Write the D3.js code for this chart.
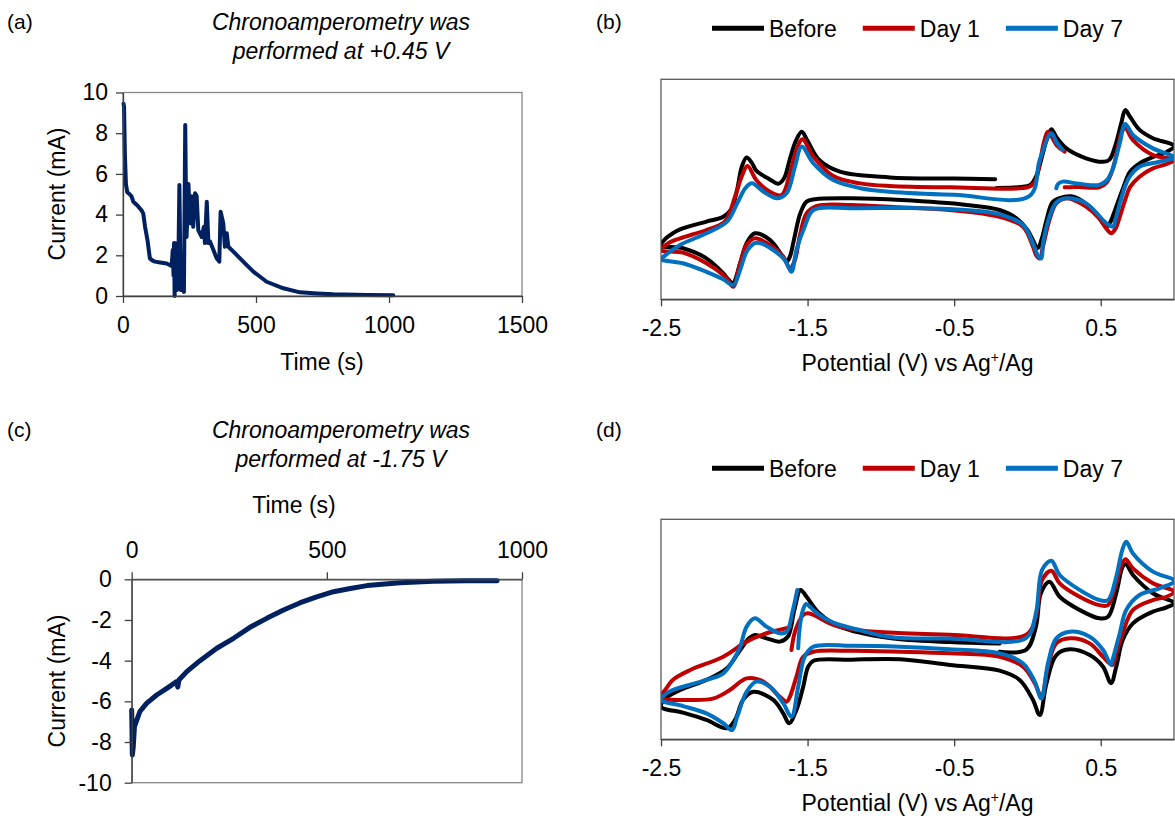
<!DOCTYPE html>
<html>
<head>
<meta charset="utf-8">
<script src="https://cdn.jsdelivr.net/npm/d3@7"></script>
<style>
  body { margin: 0; background: #fff; }
  svg { font-family: "Liberation Sans", Arial, sans-serif; }
</style>
</head>
<body>
<svg id="fig" width="1175" height="824"></svg>
<script>
// ---- data ----
// (a) chronoamperometry at +0.45 V : [time s, current mA]
const caOxidation = [
  [2, 9.45], [4, 9.3], [7, 7.0], [11, 5.5], [16, 5.1], [25, 5.0], [32, 4.9], [39, 4.63],
  [50, 4.5], [58, 4.39], [70, 4.2], [76, 4.06], [83, 3.4], [92, 2.75], [101, 1.85],
  [110, 1.75], [120, 1.69], [140, 1.65], [164, 1.6], [183, 1.47], [187, 2.26], [190, 1.0],
  [192, 2.6], [194, 0.0], [199, 2.59], [203, 0.3], [208, 1.5], [212, 5.45], [215, 2.0],
  [217, 0.3], [224, 0.62], [229, 0.2], [234, 8.4], [237, 4.5], [239, 2.9], [246, 5.5],
  [252, 3.57], [258, 4.9], [264, 3.4], [271, 5.05], [277, 4.9], [283, 3.24], [296, 2.9],
  [304, 3.4], [308, 2.6], [315, 4.63], [321, 2.6], [327, 2.68], [340, 2.26], [352, 1.85],
  [362, 1.69], [367, 4.14], [377, 3.57], [383, 2.42], [390, 3.08], [396, 2.42], [415, 2.18],
  [452, 1.69], [490, 1.2], [540, 0.7], [603, 0.38], [665, 0.18], [730, 0.12], [791, 0.08],
  [916, 0.05], [1016, 0.04]
];
// (c) chronoamperometry at -1.75 V : [time s, current mA]
const caReduction = [
  [0, -6.43], [1.6, -8.64], [4, -8.23], [7, -7.25], [13, -6.92], [21, -6.5], [38, -6.1],
  [64, -5.69], [90, -5.36], [115, -5.03], [118, -5.3], [121, -4.95], [141, -4.54],
  [175, -4.0], [218, -3.39], [261, -2.9], [303, -2.36], [346, -1.92], [389, -1.51],
  [432, -1.15], [474, -0.86], [517, -0.61], [560, -0.45], [603, -0.31], [688, -0.17],
  [773, -0.1], [859, -0.07], [936, -0.07]
];

const caTimeTicksA = [0, 500, 1000, 1500];
const caCurrentTicksA = [0, 2, 4, 6, 8, 10];
const caTimeTicksC = [0, 500, 1000];
const caCurrentTicksC = [0, -2, -4, -6, -8, -10];
const cvPotentialTicks = [-2.5, -1.5, -0.5, 0.5];

const seriesNames = ["Before", "Day 1", "Day 7"];
const seriesColors = ["#000000", "#c00000", "#0070c0"];

// CV curves, [potential V, current a.u.] in scan order
const cvB_before = [
  [-0.21, 50.6], [-0.05, 51], [0.02, 52], [0.06, 56], [0.1, 65], [0.13, 72.4], [0.163, 77.3],
  [0.2, 73.5], [0.266, 68.6], [0.4, 64.1], [0.516, 62.5], [0.56, 63.5], [0.6, 70], [0.64, 80],
  [0.667, 86], [0.7, 83], [0.765, 77], [0.856, 73.2], [1.0, 69.7],
  [0.95, 67], [0.85, 64.5], [0.765, 61.8], [0.7, 58], [0.65, 50], [0.6, 41], [0.565, 35],
  [0.54, 33], [0.5, 36], [0.47, 39.1], [0.4, 43.5], [0.3, 46.8], [0.22, 46], [0.17, 44],
  [0.13, 36], [0.1, 28], [0.07, 23.2], [0.03, 28], [0.0, 31.5], [-0.075, 36.8], [-0.19, 40.6],
  [-0.416, 42.9], [-0.86, 45.1], [-1.2, 45.9], [-1.45, 45.5], [-1.507, 44.4], [-1.55, 39],
  [-1.59, 28], [-1.62, 19.5], [-1.643, 17.1], [-1.67, 19.5], [-1.757, 27], [-1.86, 30],
  [-1.916, 25.5], [-1.96, 16.4], [-2.01, 7.3], [-2.04, 9], [-2.075, 11.8], [-2.19, 18.6],
  [-2.35, 23.2], [-2.5, 24.5],
  [-2.47, 27.5], [-2.42, 30], [-2.37, 31.8], [-2.19, 35.3], [-2.075, 37.5], [-2.02, 41],
  [-1.98, 50], [-1.95, 60], [-1.916, 64.5], [-1.88, 62], [-1.85, 58.5], [-1.757, 54.5],
  [-1.7, 52.5], [-1.66, 55], [-1.62, 64], [-1.58, 72], [-1.54, 76.2], [-1.5, 72],
  [-1.42, 63.3], [-1.28, 58], [-0.94, 55.4], [-0.5, 54.9], [-0.22, 54.6]
];
const cvB_day1 = [
  [0.254, 50.9], [0.35, 51], [0.49, 50.9], [0.54, 53], [0.58, 58.8], [0.62, 70], [0.64, 75.5],
  [0.667, 77.7], [0.72, 72.4], [0.856, 65.6], [1.0, 63.3],
  [0.95, 61.5], [0.856, 59.5], [0.765, 55.7], [0.7, 51], [0.674, 46.6], [0.63, 37.5],
  [0.6, 32], [0.572, 30], [0.54, 32], [0.49, 36.8], [0.4, 42.1], [0.3, 45.5], [0.266, 45.9],
  [0.197, 43.6], [0.15, 36], [0.106, 23.9], [0.084, 18.6], [0.06, 20], [0.038, 23.9],
  [-0.03, 33], [-0.19, 37.5], [-0.53, 40.6], [-0.87, 41.8], [-1.2, 42.9], [-1.44, 42.4],
  [-1.507, 39.1], [-1.554, 28.5], [-1.586, 17.9], [-1.62, 14.1], [-1.666, 19.4],
  [-1.757, 24.7], [-1.86, 27.7], [-1.916, 24.7], [-1.96, 16.4], [-2.007, 5.7], [-2.04, 8.5],
  [-2.075, 11], [-2.19, 16.4], [-2.35, 21.2], [-2.5, 22.4],
  [-2.45, 25.5], [-2.37, 27.7], [-2.19, 31.5], [-2.065, 35.3], [-1.995, 46.6], [-1.95, 55.7],
  [-1.91, 60.6], [-1.85, 54.2], [-1.757, 48.9], [-1.677, 47.4], [-1.62, 57.3], [-1.576, 67.9],
  [-1.535, 72.7], [-1.46, 64.8], [-1.325, 56], [-1.14, 52.7], [-0.94, 51.5], [-0.53, 50.9],
  [0.0, 50.9], [0.05, 53], [0.084, 62], [0.115, 72], [0.14, 76.2], [0.2, 70], [0.254, 67.1]
];
const cvB_day7 = [
  [0.197, 50.5], [0.21, 52.5], [0.24, 53.5], [0.35, 52.5], [0.49, 52], [0.54, 54], [0.58, 58.8],
  [0.63, 70.9], [0.667, 79.7], [0.72, 74.7], [0.856, 68.6], [1.0, 64.5],
  [0.9, 62.5], [0.765, 60.3], [0.7, 56], [0.674, 52.7], [0.63, 43.6], [0.6, 36], [0.584, 33],
  [0.55, 34], [0.516, 36], [0.4, 43.6], [0.266, 45.9], [0.197, 44], [0.15, 37.5],
  [0.106, 25.4], [0.095, 18.6], [0.07, 20], [0.038, 25.4], [-0.03, 33.8], [-0.19, 38.6],
  [-0.53, 41], [-0.87, 41.5], [-1.2, 41.4], [-1.46, 40.6], [-1.52, 33], [-1.576, 22.4],
  [-1.61, 12.5], [-1.655, 17.9], [-1.734, 22.4], [-1.82, 25.5], [-1.86, 25.5], [-1.916, 21.6],
  [-1.96, 13.3], [-2.007, 6.5], [-2.075, 9.1], [-2.19, 12.5], [-2.35, 16.4], [-2.5, 18.2],
  [-2.48, 19.5], [-2.37, 24.7], [-2.19, 30], [-2.05, 35.3], [-1.98, 43.6], [-1.925, 50.5],
  [-1.88, 52.7], [-1.8, 48.9], [-1.71, 45.9], [-1.643, 48.2], [-1.586, 60.3], [-1.54, 69.4],
  [-1.46, 61.8], [-1.325, 54.2], [-1.14, 50.5], [-0.94, 48.9], [-0.5, 47.5], [0.015, 47],
  [0.084, 63.3], [0.163, 75.5], [0.197, 71.6], [0.24, 67.9]
];
const cvD_before = [
  [-0.19, 39.8], [-0.01, 40.6], [0.058, 51.2], [0.092, 66.4], [0.15, 71.6], [0.22, 64.8],
  [0.356, 58.8], [0.49, 55], [0.55, 55.7], [0.606, 66.4], [0.65, 78.5], [0.67, 79.7],
  [0.72, 74.7], [0.856, 66.4], [1.0, 61.8],
  [0.95, 60], [0.856, 58], [0.72, 52.7], [0.65, 45.1], [0.606, 33], [0.57, 25.5], [0.516, 33],
  [0.425, 38.3], [0.29, 40.9], [0.197, 38.3], [0.13, 25.5], [0.084, 11], [0.038, 17.9],
  [-0.053, 27], [-0.19, 31.2], [-0.53, 33.8], [-0.87, 36.4], [-1.2, 36.2], [-1.46, 35.7],
  [-1.496, 33], [-1.53, 23.9], [-1.576, 13.3], [-1.626, 7.3], [-1.666, 11.8], [-1.734, 17.9],
  [-1.87, 21.6], [-1.94, 17.9], [-1.995, 8.8], [-2.05, 5], [-2.19, 8.8], [-2.35, 12.1],
  [-2.5, 14.8],
  [-2.47, 18.5], [-2.37, 22.4], [-2.19, 27], [-2.05, 32.3], [-1.96, 40.6], [-1.9, 45.9],
  [-1.86, 47.4], [-1.78, 45.9], [-1.69, 44.4], [-1.635, 46.6], [-1.59, 58.8], [-1.548, 67.9],
  [-1.507, 64.8], [-1.42, 57.3], [-1.28, 51.2], [-0.94, 46], [-0.53, 44.2], [-0.19, 43.5]
];
const cvD_day1 = [
  [-1.61, 40.6], [-1.59, 48], [-1.564, 52.7], [-1.53, 56.5], [-1.5, 57.3], [-1.46, 56.5],
  [-1.325, 52], [-1.166, 49.7], [-0.94, 48.5], [-0.53, 47.5], [-0.01, 47.4], [0.058, 55.7],
  [0.1, 72.4], [0.163, 76.6], [0.22, 70.9], [0.356, 64.8], [0.49, 61], [0.55, 61],
  [0.606, 70.9], [0.647, 80], [0.67, 81.8], [0.72, 77.7], [0.856, 70.9], [1.0, 67.1],
  [0.95, 64.8], [0.856, 63.3], [0.72, 58.8], [0.65, 48.2], [0.606, 39.1], [0.58, 33.8],
  [0.516, 37.5], [0.425, 43.6], [0.29, 45.9], [0.197, 43.6], [0.14, 33], [0.095, 19.4],
  [0.05, 25.5], [-0.03, 33], [-0.19, 37.5], [-0.53, 39.1], [-0.87, 39.8], [-1.2, 40.2],
  [-1.46, 39.8], [-1.53, 37.5], [-1.576, 28.5], [-1.62, 19.4], [-1.643, 17.1], [-1.69, 19.4],
  [-1.8, 26.2], [-1.916, 27.7], [-2.03, 22.4], [-2.14, 18.6], [-2.3, 17.9], [-2.5, 19],
  [-2.46, 23.5], [-2.42, 27], [-2.3, 31.5], [-2.075, 37.5], [-1.916, 44.4], [-1.78, 48.2],
  [-1.643, 50.5], [-1.62, 51]
];
const cvD_day7 = [
  [-1.564, 41.4], [-1.555, 50], [-1.535, 58], [-1.51, 61.5], [-1.48, 60], [-1.44, 57.5],
  [-1.325, 53], [-1.166, 50], [-0.94, 46.5], [-0.53, 45.8], [-0.01, 46], [0.058, 57.3],
  [0.1, 77], [0.163, 81.2], [0.22, 74.7], [0.356, 67.9], [0.49, 63.3], [0.55, 63.3],
  [0.606, 73.9], [0.647, 86], [0.674, 89.8], [0.72, 84.5], [0.856, 76.2], [1.0, 72],
  [0.9, 68.6], [0.765, 65.6], [0.674, 58.8], [0.63, 48.2], [0.584, 36.8], [0.57, 33.8],
  [0.516, 40.6], [0.425, 46.6], [0.29, 48.9], [0.197, 45.9], [0.14, 34.5], [0.095, 18.6],
  [0.05, 26.2], [-0.03, 34.5], [-0.19, 39.1], [-0.53, 40.9], [-0.87, 42.1], [-1.2, 42.5],
  [-1.46, 42.1], [-1.52, 37.5], [-1.564, 23.9], [-1.61, 10.3], [-1.666, 16.4], [-1.757, 23.9],
  [-1.85, 26.2], [-1.916, 21.6], [-1.98, 10.3], [-2.015, 4.2], [-2.075, 7.3], [-2.19, 11.8],
  [-2.35, 15.1], [-2.5, 17.9],
  [-2.46, 21], [-2.42, 22.4], [-2.19, 27], [-2.075, 30], [-2.007, 36], [-1.96, 42.1],
  [-1.916, 51.2], [-1.86, 55], [-1.78, 51.2], [-1.69, 48.2], [-1.643, 48.9], [-1.6, 58.8],
  [-1.57, 67.9]
];

// ---- drawing ----
const svg = d3.select("#fig");
const FS = 23;
const AXIS_COLOR = "#404040";
const BORDER_COLOR = "#868686";

function styleAxis(g) {
  g.attr("font-family", null).attr("font-size", FS);
  g.select(".domain").attr("stroke", AXIS_COLOR).attr("stroke-width", 1.3);
  g.selectAll(".tick line").attr("stroke", AXIS_COLOR).attr("stroke-width", 1.3);
  g.selectAll(".tick text").attr("fill", "#000");
}

function panelLabel(x, y, txt) {
  svg.append("text").attr("x", x).attr("y", y).attr("font-size", 21).text(txt);
}

function italicTitle(cx, y, lines) {
  const t = svg.append("text").attr("text-anchor", "middle")
    .attr("font-size", FS).attr("font-style", "italic");
  lines.forEach((l, i) => t.append("tspan").attr("x", cx).attr("y", y + i * 28.5).text(l));
}

function yTitle(cx, cy, txt) {
  svg.append("text")
    .attr("transform", `translate(${cx},${cy}) rotate(-90)`)
    .attr("text-anchor", "middle").attr("font-size", FS).text(txt);
}

const caLine = (x, y) => d3.line().x(d => x(d[0])).y(d => y(d[1]));
const plain = d => String(d);

// (a)
{
  const x = d3.scaleLinear().domain([0, 1500]).range([123, 522]);
  const y = d3.scaleLinear().domain([0, 10]).range([296, 92.5]);
  svg.append("rect").attr("x", 123).attr("y", 92.5).attr("width", 399).attr("height", 203.5)
    .attr("fill", "none").attr("stroke", BORDER_COLOR).attr("stroke-width", 1.3);
  svg.append("path").datum(caOxidation).attr("d", caLine(x, y))
    .attr("fill", "none").attr("stroke", "#002060").attr("stroke-width", 4)
    .attr("stroke-linejoin", "round").attr("stroke-linecap", "round");
  svg.append("g").attr("transform", "translate(0,296)")
    .call(d3.axisBottom(x).tickValues(caTimeTicksA).tickSize(7).tickSizeOuter(0).tickPadding(14)
      .tickFormat(plain))
    .call(styleAxis);
  svg.append("g").attr("transform", "translate(123,0)")
    .call(d3.axisLeft(y).tickValues(caCurrentTicksA).tickSize(7).tickSizeOuter(0).tickPadding(8)
      .tickFormat(plain))
    .call(styleAxis);
  panelLabel(7, 29, "(a)");
  italicTitle(341, 30, ["Chronoamperometry was", "performed at +0.45 V"]);
  svg.append("text").attr("x", 322).attr("y", 370).attr("text-anchor", "middle")
    .attr("font-size", FS).text("Time (s)");
  yTitle(65, 194, "Current (mA)");
}

// (c)
{
  const x = d3.scaleLinear().domain([0, 1000]).range([131.7, 522]);
  const y = d3.scaleLinear().domain([-10, 0]).range([782.7, 579.3]);
  svg.append("rect").attr("x", 131.7).attr("y", 579.3).attr("width", 390.3).attr("height", 203.4)
    .attr("fill", "none").attr("stroke", BORDER_COLOR).attr("stroke-width", 1.3);
  svg.append("path").datum(caReduction).attr("d", caLine(x, y))
    .attr("fill", "none").attr("stroke", "#002060").attr("stroke-width", 5)
    .attr("stroke-linejoin", "round").attr("stroke-linecap", "round");
  svg.append("g").attr("transform", "translate(0,579.3)")
    .call(d3.axisTop(x).tickValues(caTimeTicksC).tickSize(7).tickSizeOuter(0).tickPadding(14)
      .tickFormat(plain))
    .call(styleAxis);
  svg.append("g").attr("transform", "translate(131.7,0)")
    .call(d3.axisLeft(y).tickValues(caCurrentTicksC).tickSize(7).tickSizeOuter(0).tickPadding(13)
      .tickFormat(plain))
    .call(styleAxis);
  panelLabel(7, 437, "(c)");
  italicTitle(341, 438, ["Chronoamperometry was", "performed at -1.75 V"]);
  svg.append("text").attr("x", 294).attr("y", 513).attr("text-anchor", "middle")
    .attr("font-size", FS).text("Time (s)");
  yTitle(65, 681, "Current (mA)");
}

// CV panels (b) and (d)
function cvPanel(top, curves, label, labelY, clipId) {
  const bottom = top + 220;
  const x = d3.scaleLinear().domain([-2.5, 1.0]).range([661, 1174]);
  const y = d3.scaleLinear().domain([0, 100]).range([bottom, top]);

  svg.append("clipPath").attr("id", clipId).append("rect")
    .attr("x", 661).attr("y", top).attr("width", 513).attr("height", 220);

  const line = d3.line().x(d => x(d[0])).y(d => y(d[1])).curve(d3.curveCatmullRom.alpha(0.5));
  svg.append("g").attr("clip-path", `url(#${clipId})`)
    .selectAll("path").data(curves).join("path")
    .attr("d", d => line(d))
    .attr("fill", "none")
    .attr("stroke", (d, i) => seriesColors[i])
    .attr("stroke-width", 4)
    .attr("stroke-linejoin", "round").attr("stroke-linecap", "round");

  svg.append("rect").attr("x", 661).attr("y", top).attr("width", 513).attr("height", 220)
    .attr("fill", "none").attr("stroke", "#595959").attr("stroke-width", 1.3);
  svg.append("g").attr("transform", `translate(0,${bottom})`)
    .call(d3.axisBottom(x).tickValues(cvPotentialTicks).tickSize(7).tickSizeOuter(0).tickPadding(13)
      .tickFormat(d => d.toFixed(1)))
    .call(styleAxis);

  const title = svg.append("text").attr("x", 917.5).attr("y", bottom + 72)
    .attr("text-anchor", "middle").attr("font-size", FS);
  title.append("tspan").text("Potential (V) vs Ag");
  title.append("tspan").attr("font-size", 14).attr("dy", -9).text("+");
  title.append("tspan").attr("dy", 9).text("/Ag");

  // legend
  const legY = top - 51;
  let lx = 712;
  seriesNames.forEach((name, i) => {
    svg.append("line").attr("x1", lx).attr("x2", lx + 52).attr("y1", legY).attr("y2", legY)
      .attr("stroke", seriesColors[i]).attr("stroke-width", 5);
    const t = svg.append("text").attr("x", lx + 57).attr("y", legY).attr("dy", "0.36em")
      .attr("font-size", FS).text(name);
    lx += 57 + t.node().getComputedTextLength() + 26;
  });
  panelLabel(596, labelY, label);
}

cvPanel(79.3, [cvB_before, cvB_day1, cvB_day7], "(b)", 29, "clipB");
cvPanel(519.3, [cvD_before, cvD_day1, cvD_day7], "(d)", 437, "clipD");
</script>
</body>
</html>
